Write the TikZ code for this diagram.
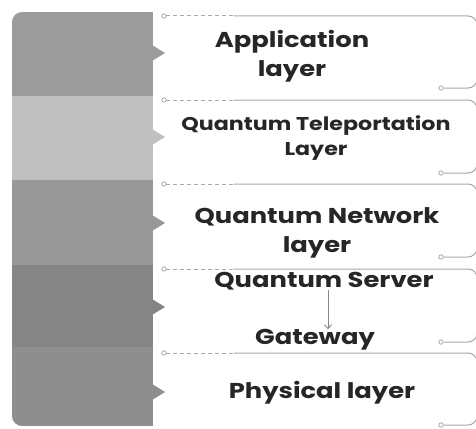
\documentclass[tikz,border=0pt]{standalone}
\usepackage{fontspec}
\setmainfont{Poppins}[FakeStretch=1.2]
\usetikzlibrary{arrows.meta}
\definecolor{bandA}{HTML}{9C9C9C}
\definecolor{bandB}{HTML}{C0C0C0}
\definecolor{bandC}{HTML}{989898}
\definecolor{bandD}{HTML}{858585}
\definecolor{bandE}{HTML}{8E8E8E}
\definecolor{wire}{HTML}{A8A8A8}
\tikzset{
	label text/.style={font=\bfseries\fontsize{21.5}{29.5}\selectfont, text=black!85, align=center, inner sep=0pt},
	small text/.style={label text, font=\bfseries\fontsize{18.5}{25}\selectfont},
	wire line/.style={wire, line width=1pt},
	pin dot/.style={wire, line width=0.8pt, fill=white},
}
\begin{document}
\begin{tikzpicture}[x=1pt, y=-1pt]
				\useasboundingbox (0,0) rectangle (476,428);

				% left column
				\begin{scope}
					\clip[rounded corners=10pt] (12,12) rectangle (220,426);
					\fill[bandA] (12,12) rectangle (153,96);
					\fill[bandB] (12,96) rectangle (153,180);
					\fill[bandC] (12,180) rectangle (153,265);
					\fill[bandD] (12,265) rectangle (153,347);
					\fill[bandE] (12,347) rectangle (153,426);
				\end{scope}

				\fill[bandA] (152,45) -- (165,53) -- (152,61) -- cycle;
				\fill[bandB] (152,129) -- (165,137) -- (152,145) -- cycle;
				\fill[bandC] (152,215) -- (165,223) -- (152,231) -- cycle;
				\fill[bandD] (152,299) -- (165,307) -- (152,315) -- cycle;
				\fill[bandE] (152,384) -- (165,392) -- (152,400) -- cycle;

				% brackets
				\foreach \top/\bot in {16/88, 100/173, 184/257, 269/342, 353/425} {
					\draw[wire line, dash pattern=on 4pt off 3pt] (166,\top) -- (234,\top);
					\draw[wire line, rounded corners=9pt] (234,\top) -- (477,\top) -- (477,\bot) -- (444,\bot);
					\draw[pin dot] (164,\top) circle[radius=2.2pt];
					\draw[pin dot] (441,\bot) circle[radius=2.2pt];
				}

				% layer names
				\node[label text] (app) at (292,56) {Application\\layer};
				\node[small text] (tele) at (316,138) {Quantum Teleportation\\Layer};
				\node[label text] (net) at (317,233) {Quantum Network\\layer};
				\node[label text] (server) at (324,281) {Quantum Server};
				\node[label text] (gate) at (315,340) {Gateway};
				\node[label text] (phys) at (322,393) {Physical layer};

				\draw[wire!80!black, line width=0.9pt, -{Straight Barb[length=4pt, width=7pt]}]
					([xshift=4pt]server.south) -- ([xshift=13pt]gate.north);
			\end{tikzpicture}
\end{document}
